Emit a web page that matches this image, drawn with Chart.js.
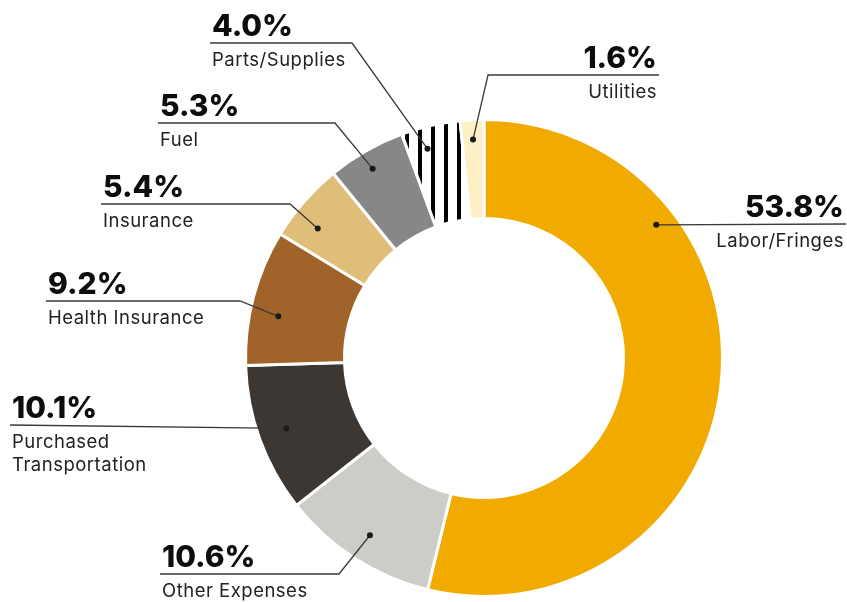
<!DOCTYPE html>
<html>
<head>
<meta charset="utf-8">
<script src="https://cdn.jsdelivr.net/npm/chart.js@4"></script>
<style>
  html, body { margin: 0; padding: 0; background: #fff; }
  #wrap { width: 847px; height: 602px; position: relative; }
</style>
</head>
<body>
<div id="wrap"><canvas id="costChart"></canvas></div>
<script>
'use strict';

// data (percent of total cost)
const categories = ['Labor/Fringes', 'Other Expenses', 'Purchased Transportation', 'Health Insurance',
  'Insurance', 'Fuel', 'Parts/Supplies', 'Utilities'];
const shares = [53.8, 10.6, 10.1, 9.2, 5.4, 5.3, 4.0, 1.6];
const nameLines = [['Labor/Fringes'], ['Other Expenses'], ['Purchased', 'Transportation'], ['Health Insurance'],
  ['Insurance'], ['Fuel'], ['Parts/Supplies'], ['Utilities']];

// striped fill for Parts/Supplies
function stripes() {
  const c = document.createElement('canvas');
  c.width = 13; c.height = 13;
  const g = c.getContext('2d');
  g.fillStyle = '#fff';
  g.fillRect(0, 0, 13, 13);
  g.fillStyle = '#000';
  g.fillRect(2, 0, 4, 13);
  return g.createPattern(c, 'repeat');
}

const colors = ['#f0aa00', '#cdcdc8', '#3c3733', '#a0642a', '#dfbe7a', '#878787', stripes(), '#fcf0c4'];

// callout layout: side, text x, underline y, line end x, elbow x (null = straight to dot),
// where the dot sits along the arc (0..1) and across the ring (0..1)
const callouts = [
  { align: 'right', x: 844, y: 224, end: 846, elbow: null, along: 0.27, across: 0.79 },
  { align: 'left', x: 162, y: 574, end: 160, elbow: 339, along: 0.5, across: 0.72 },
  { align: 'left', x: 12, y: 425, end: 10, elbow: null, along: 0.51, across: 0.71 },
  { align: 'left', x: 48, y: 301, end: 46, elbow: 240, along: 0.4, across: 0.71 },
  { align: 'left', x: 103, y: 204, end: 101, elbow: 290, along: 0.34, across: 0.72 },
  { align: 'left', x: 160, y: 123, end: 158, elbow: 335, along: 0.46, across: 0.81 },
  { align: 'left', x: 212, y: 43, end: 210, elbow: 352, along: 0.35, across: 0.78 },
  { align: 'right', x: 657, y: 75, end: 659, elbow: 488, along: 0.5, across: 0.8 }
];

const calloutPlugin = {
  id: 'callouts',
  afterDraw(chart) {
    const ctx = chart.ctx;
    const arcs = chart.getDatasetMeta(0).data;
    ctx.save();
    callouts.forEach((c, i) => {
      const a = arcs[i];
      const ang = a.startAngle + c.along * (a.endAngle - a.startAngle);
      const r = a.innerRadius + c.across * (a.outerRadius - a.innerRadius);
      const dx = a.x + Math.cos(ang) * r;
      const dy = a.y + Math.sin(ang) * r;

      ctx.strokeStyle = '#3a3a3a';
      ctx.lineWidth = 1.3;
      ctx.beginPath();
      ctx.moveTo(c.end, c.y);
      if (c.elbow !== null) {
        ctx.lineTo(c.elbow, c.y);
      }
      ctx.lineTo(dx, dy);
      ctx.stroke();

      ctx.fillStyle = '#1a1a1a';
      ctx.beginPath();
      ctx.arc(dx, dy, 3, 0, Math.PI * 2);
      ctx.fill();

      ctx.textAlign = c.align;
      ctx.textBaseline = 'alphabetic';
      ctx.fillStyle = '#0d0d0d';
      ctx.letterSpacing = '0px';
      ctx.font = '800 30px Inter';
      ctx.fillText(shares[i].toFixed(1) + '%', c.x, c.y - 7);
      ctx.fillStyle = '#222';
      ctx.font = '400 18.5px Inter';
      ctx.letterSpacing = '0.5px';
      nameLines[i].forEach((t, k) => {
        ctx.fillText(t, c.x, c.y + 23 + k * 23);
      });
    });
    ctx.restore();
  }
};

const chart = new Chart(document.getElementById('costChart'), {
  type: 'doughnut',
  data: {
    labels: categories,
    datasets: [{
      data: shares,
      backgroundColor: colors,
      borderColor: '#fff',
      borderWidth: 3
    }]
  },
  options: {
    responsive: true,
    maintainAspectRatio: false,
    animation: false,
    events: [],
    cutout: '58.5%',
    layout: { padding: { left: 244, right: 123, top: 118, bottom: 4 } },
    plugins: {
      legend: { display: false },
      tooltip: { enabled: false }
    }
  },
  plugins: [calloutPlugin]
});
</script>
</body>
</html>
